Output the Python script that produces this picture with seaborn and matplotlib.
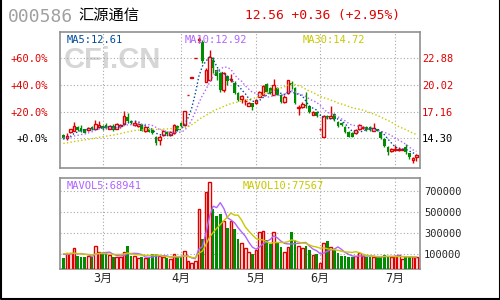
import numpy as np
import pandas as pd
import matplotlib
matplotlib.use("Agg")
import matplotlib.pyplot as plt
from matplotlib.lines import Line2D
import seaborn as sns

# daily bars (mid Feb -> mid Jul)
opens = [14.65, 14.30, 15.00, 15.12, 15.48, 15.37, 15.27, 15.19, 15.55, 15.33,
         15.50, 15.62, 15.73, 15.35, 15.62, 15.30, 15.60, 15.80, 16.62, 16.19,
         15.70, 15.62, 15.73, 15.12, 15.27, 15.19, 14.47, 14.12, 14.65, 15.00,
         14.65, 14.84, 15.62, 15.90, 15.73, 18.92, 20.81, 22.89, 24.80, 24.60,
         20.37, 20.55, 22.70, 21.60, 21.27, 19.48, 21.00, 20.50, 20.26, 19.13,
         18.50, 18.30, 17.80, 18.05, 18.12, 18.76, 18.94, 20.12, 19.66, 18.95,
         19.73, 18.95, 18.23, 19.13, 20.26, 19.66, 17.60, 17.63, 17.90, 17.75,
         16.85, 17.10, 15.27, 14.47, 16.70, 16.50, 16.90, 16.08, 15.90, 15.48,
         15.00, 14.84, 14.84, 15.27, 15.40, 15.55, 15.55, 15.12, 15.27, 14.98,
         14.20, 13.40, 12.90, 13.00, 13.05, 13.05, 13.33, 12.69, 11.95, 12.25]
highs = [14.75, 14.84, 15.30, 16.00, 15.60, 15.70, 15.35, 15.50, 15.60, 16.30,
         16.20, 15.70, 15.90, 15.75, 15.80, 15.95, 15.85, 17.20, 16.98, 16.30,
         16.30, 15.95, 15.80, 15.60, 15.40, 15.30, 14.50, 14.65, 15.20, 15.10,
         15.10, 15.80, 15.70, 16.00, 17.20, 18.92, 20.81, 22.89, 25.18, 24.85,
         21.80, 23.77, 23.05, 21.70, 21.40, 21.40, 21.10, 21.20, 20.40, 19.30,
         18.95, 18.50, 18.20, 18.10, 18.50, 19.40, 20.00, 20.20, 19.75, 20.63,
         19.85, 19.00, 18.90, 20.60, 20.40, 19.80, 17.90, 18.20, 19.30, 17.85,
         17.20, 17.20, 15.35, 16.80, 16.80, 17.75, 17.00, 16.20, 16.00, 15.60,
         15.10, 14.95, 15.30, 15.80, 15.60, 15.65, 15.60, 15.90, 15.35, 15.05,
         14.30, 13.50, 13.30, 13.55, 13.40, 13.30, 13.70, 12.75, 12.25, 12.60]
lows = [14.25, 14.12, 14.90, 15.05, 15.10, 15.00, 14.85, 15.10, 15.20, 15.25,
        15.45, 15.20, 15.30, 15.25, 15.10, 15.25, 15.40, 15.75, 16.10, 15.85,
        15.60, 15.50, 15.05, 15.00, 14.95, 14.80, 13.55, 13.55, 14.60, 14.65,
        14.60, 14.80, 15.10, 15.50, 15.60, 18.92, 20.81, 22.89, 24.50, 22.40,
        20.30, 20.40, 21.27, 20.50, 19.30, 19.30, 20.00, 20.30, 19.00, 18.30,
        18.10, 17.90, 17.75, 17.35, 18.00, 18.70, 18.90, 19.20, 19.10, 18.90,
        18.90, 18.05, 18.10, 19.00, 19.60, 18.00, 16.80, 17.50, 17.60, 17.05,
        16.80, 16.60, 15.20, 14.40, 16.40, 16.45, 16.20, 15.50, 15.60, 14.90,
        14.40, 14.40, 14.80, 15.20, 15.30, 15.10, 15.10, 15.05, 15.05, 14.20,
        13.40, 12.50, 12.85, 12.90, 12.95, 13.00, 12.60, 12.10, 11.70, 11.90]
closes = [14.30, 14.55, 15.25, 15.62, 15.19, 15.12, 14.90, 15.44, 15.27, 15.80,
          15.73, 15.27, 15.37, 15.62, 15.20, 15.80, 15.75, 16.69, 16.19, 15.90,
          15.90, 15.80, 15.12, 15.48, 15.00, 14.84, 13.76, 14.47, 15.12, 14.73,
          15.00, 15.73, 15.19, 15.64, 17.20, 18.92, 20.81, 22.89, 24.95, 22.60,
          21.63, 23.05, 21.80, 21.00, 19.48, 21.27, 20.45, 20.70, 19.13, 18.41,
          18.84, 18.35, 18.05, 17.70, 18.40, 19.30, 19.90, 19.30, 19.13, 20.00,
          18.95, 18.23, 18.76, 20.55, 20.00, 18.05, 17.70, 17.98, 17.75, 17.10,
          17.15, 16.69, 15.27, 16.69, 16.60, 16.65, 16.34, 15.62, 15.73, 15.00,
          14.47, 14.47, 15.19, 15.73, 15.50, 15.19, 15.19, 15.37, 15.12, 14.30,
          13.47, 12.87, 13.20, 13.15, 13.20, 13.20, 12.86, 12.26, 12.20, 12.56]
volumes = [62000, 109500, 109500, 157000, 84000, 77000, 77000, 84000, 77000, 179000,
           125000, 103000, 103000, 93000, 77000, 71500, 77000, 125000, 179000, 84000,
           84000, 62000, 77000, 62000, 71500, 103000, 103000, 84000, 71500, 62000,
           52500, 103000, 77000, 71500, 131000, 36000, 14500, 36000, 530000, 245000,
           694000, 789000, 527000, 464000, 480000, 416000, 353000, 416000, 337000, 242000,
           210000, 163000, 125000, 103000, 141000, 309000, 321000, 236000, 198000, 309000,
           220000, 166000, 125000, 172000, 309000, 236000, 179000, 157000, 179000, 141000,
           93000, 103000, 14500, 204000, 226000, 166000, 141000, 115000, 84000, 84000,
           71500, 71500, 84000, 109500, 84000, 71500, 71500, 77000, 71500, 71500,
           93000, 80000, 75000, 88000, 95000, 55000, 72000, 70000, 78000, 70000]

# earlier history, only used so the moving averages start where the chart shows them
prior_closes = [13.2, 13.1, 13.3, 13.4, 13.2, 13.3, 13.5, 13.4, 13.6, 13.5,
                13.4, 13.6, 13.5, 13.7, 13.6, 13.5, 13.6, 13.7, 13.5, 13.6,
                14.5, 14.6, 14.4, 14.5, 14.3, 14.4, 14.2, 14.1, 14.3]
prior_volumes = [95000, 120000, 105000, 130000, 100000, 115000, 90000, 125000, 110000]

month_labels = ["3月", "4月", "5月", "6月", "7月"]
month_starts = [11, 33, 54, 72, 93]

base_price = 14.30
price_ticks = [14.30, 17.16, 20.02, 22.88]
vol_ticks = [100000, 300000, 500000, 700000]

RED = "#e00000"
GREEN = "#008c00"
GRID = "#a8a8a8"
FRAME = "#909090"
C_MA5 = "#004c9e"
C_MA10 = "#b064ff"
C_MA30 = "#c8c800"

df = pd.DataFrame({"open": opens, "high": highs, "low": lows,
                   "close": closes, "volume": volumes})
df["day"] = np.arange(len(df))
n0 = len(prior_closes)
all_close = pd.Series(prior_closes + closes)
for w in (5, 10, 30):
    df[f"ma{w}"] = all_close.rolling(w, min_periods=1).mean().iloc[n0:].to_numpy()
n1 = len(prior_volumes)
all_vol = pd.Series(prior_volumes + volumes)
for w in (5, 10):
    df[f"mavol{w}"] = all_vol.rolling(w, min_periods=1).mean().iloc[n1:].to_numpy()

sns.set_theme(style="white")
plt.rcParams["font.family"] = ["DejaVu Sans Mono", "Noto Sans CJK SC"]

fig = plt.figure(figsize=(5, 3), dpi=100)
fig.patch.set_facecolor("white")
ax = fig.add_axes([0.12, 0.441, 0.72, 0.4533])
axv = fig.add_axes([0.12, 0.1033, 0.72, 0.3023])

up = df["close"] >= df["open"]
down = ~up
body_lo = np.minimum(df["open"], df["close"])
body_h = np.maximum((df["close"] - df["open"]).abs(), 0.03)

# price panel
ax.text(0.145, 0.79, "CFi.CN", transform=ax.transAxes, family="Liberation Sans",
        fontweight="bold", fontsize=21, color="#d6d6d6", ha="center", va="center", zorder=0)
ax.vlines(df["day"], df["low"], df["high"], colors=np.where(up, RED, GREEN),
          linewidth=1, zorder=3)
ax.bar(df["day"][up], body_h[up], bottom=body_lo[up], width=0.75,
       facecolor="white", edgecolor=RED, linewidth=1, zorder=4)
ax.bar(df["day"][down], body_h[down], bottom=body_lo[down], width=0.75,
       color=GREEN, linewidth=0, zorder=4)
for col, c in (("ma5", C_MA5), ("ma10", C_MA10), ("ma30", C_MA30)):
    sns.lineplot(data=df, x="day", y=col, ax=ax, color=c, linewidth=1,
                 linestyle=(0, (1, 1.6)), zorder=5)

ax.set_xlim(-0.93, 100.0)
ax.set_ylim(11.15, 25.73)
ax.set_xticks(month_starts)
ax.set_yticks(price_ticks)
ax.set_xticklabels([])
ax.set_yticklabels([f"{(p / base_price - 1) * 100:+.1f}%" for p in price_ticks])
ax.tick_params(axis="both", length=0)
ax.tick_params(axis="y", labelsize=7.5, pad=8.5)
for lab, p in zip(ax.get_yticklabels(), price_ticks):
    lab.set_color("black" if p == base_price else RED)
ax.set_xlabel("")
ax.set_ylabel("")

axr = ax.twinx()
axr.set_ylim(ax.get_ylim())
axr.set_yticks(price_ticks)
axr.set_yticklabels([f"{p:.2f}" for p in price_ticks])
axr.tick_params(axis="y", length=0, labelsize=7.5, pad=1.5)
for lab, p in zip(axr.get_yticklabels(), price_ticks):
    lab.set_color("black" if p == base_price else RED)
axr.grid(False)
for s in axr.spines.values():
    s.set_visible(False)

ax.text(0.018, 0.975, "MA5:12.61", transform=ax.transAxes, fontsize=7.5, color=C_MA5, va="top", zorder=6)
ax.text(0.345, 0.975, "MA10:12.92", transform=ax.transAxes, fontsize=7.5, color=C_MA10, va="top", zorder=6)
ax.text(0.675, 0.975, "MA30:14.72", transform=ax.transAxes, fontsize=7.5, color=C_MA30, va="top", zorder=6)

# volume panel
vol_floor = -39600
axv.bar(df["day"][up], (df["volume"] - vol_floor)[up], bottom=vol_floor, width=0.75,
        facecolor="white", edgecolor=RED, linewidth=1, zorder=3)
axv.bar(df["day"][down], (df["volume"] - vol_floor)[down], bottom=vol_floor, width=0.75,
        color=GREEN, linewidth=0, zorder=3)
sns.lineplot(data=df, x="day", y="mavol5", ax=axv, color=C_MA10, linewidth=1, zorder=4)
sns.lineplot(data=df, x="day", y="mavol10", ax=axv, color=C_MA30, linewidth=1, zorder=4)
axv.set_xlim(-0.93, 100.0)
axv.set_ylim(vol_floor, 821800)
axv.set_xticks(month_starts)
axv.set_xticklabels(month_labels)
axv.set_yticks(vol_ticks)
axv.yaxis.tick_right()
axv.set_yticklabels([str(v) for v in vol_ticks])
axv.tick_params(axis="both", length=0)
axv.tick_params(axis="y", labelsize=7.5, pad=3)
axv.tick_params(axis="x", labelsize=8.5, pad=2)
axv.set_xlabel("")
axv.set_ylabel("")
axv.text(0.018, 0.97, "MAVOL5:68941", transform=axv.transAxes, fontsize=7.5, color=C_MA10, va="top", zorder=6)
axv.text(0.506, 0.97, "MAVOL10:77567", transform=axv.transAxes, fontsize=7.5, color=C_MA30, va="top", zorder=6)

for a in (ax, axv):
    a.set_facecolor("white")
    a.grid(True, color=GRID, linestyle=(0, (1, 2)), linewidth=0.8)
    a.set_axisbelow(True)
    for s in a.spines.values():
        s.set_color(FRAME)
        s.set_linewidth(1.2)
        s.set_visible(True)

# header
fig.text(8 / 500, 1 - 17 / 300, "000586", fontsize=13, color="#a0a0a0", va="center")
fig.text(78 / 500, 1 - 15 / 300, "汇源通信", fontsize=11, color="black", va="center",
         family=["Noto Sans CJK SC", "DejaVu Sans"])
fig.text(245 / 500, 1 - 15 / 300, "12.56 +0.36 (+2.95%)", fontsize=9.3, color=RED, va="center")

# outer frame (left, bottom, right)
fig.add_artist(Line2D([0.001, 0.001, 0.999, 0.999], [1, 0.004, 0.004, 1],
                      transform=fig.transFigure, color="black", linewidth=1.5))

fig.savefig("out.png", dpi=100)
